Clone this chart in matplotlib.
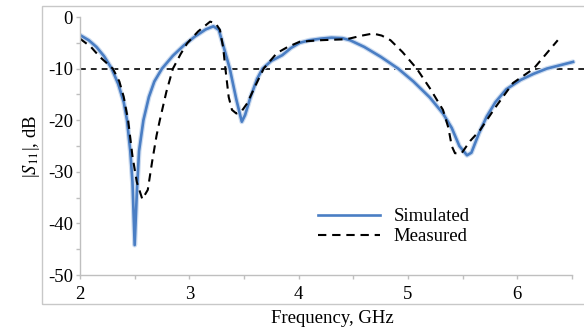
import numpy as np
import matplotlib
matplotlib.use('Agg')
import matplotlib.pyplot as plt
from matplotlib.patches import Rectangle

# simulated |S11| (GHz, dB)
sim_f = [2.00, 2.08, 2.15, 2.22, 2.29, 2.35, 2.40, 2.43, 2.46, 2.48, 2.50, 2.52, 2.54, 2.58,
         2.63, 2.68, 2.75, 2.85, 2.95, 3.05, 3.15, 3.22, 3.27, 3.31, 3.37, 3.43, 3.48,
         3.51, 3.56, 3.62, 3.67, 3.75, 3.85, 3.93, 4.01, 4.10, 4.20, 4.30, 4.40, 4.47,
         4.60, 4.75, 4.91, 5.05, 5.20, 5.32, 5.40, 5.47, 5.54, 5.58, 5.65, 5.72, 5.80,
         5.90, 6.03, 6.15, 6.27, 6.40, 6.51]
sim_db = [-3.5, -4.5, -5.8, -7.6, -10.0, -13.0, -16.5, -20.0, -26.0, -32.0, -44.2, -34.0, -26.0, -20.0,
          -15.5, -12.5, -10.0, -7.5, -5.5, -3.8, -2.4, -1.8, -2.5, -5.5, -10.0, -16.0, -20.3,
          -19.0, -15.5, -12.0, -10.0, -8.5, -7.4, -6.0, -5.0, -4.5, -4.2, -4.0, -4.1, -4.5,
          -5.8, -7.7, -10.0, -12.5, -15.6, -18.7, -21.5, -25.0, -26.8, -26.3, -22.5, -19.3, -16.5,
          -14.0, -12.2, -11.0, -10.0, -9.3, -8.7]

# measured |S11|
meas_f = [2.00, 2.10, 2.18, 2.30, 2.36, 2.40, 2.44, 2.48, 2.52, 2.57, 2.62, 2.66, 2.70,
          2.73, 2.79, 2.85, 2.92, 2.98, 3.08, 3.19, 3.24, 3.28, 3.31, 3.33, 3.36, 3.39,
          3.43, 3.48, 3.53, 3.60, 3.68, 3.80, 3.90, 4.01, 4.20, 4.44, 4.58, 4.68, 4.76,
          4.84, 4.95, 5.08, 5.20, 5.32, 5.37, 5.40, 5.43, 5.49, 5.57, 5.66, 5.80, 5.96,
          6.15, 6.37]
meas_db = [-4.2, -5.8, -7.7, -10.0, -12.5, -15.5, -20.0, -27.0, -32.0, -35.3, -33.5, -28.0, -23.0,
           -20.0, -14.5, -10.0, -7.2, -5.1, -2.8, -0.9, -1.2, -2.5, -6.0, -10.0, -15.5, -18.0,
           -18.7, -18.2, -16.7, -13.5, -10.0, -7.0, -5.8, -4.8, -4.5, -4.3, -3.6, -3.2, -3.6,
           -4.5, -6.8, -10.0, -13.8, -18.0, -21.5, -25.0, -26.4, -26.4, -24.0, -21.9, -17.5, -12.8,
           -10.0, -4.5]

ref_level = -10
x_ticks = [2, 3, 4, 5, 6]
y_ticks = [0, -10, -20, -30, -40, -50]

plt.rcParams['font.family'] = ['Liberation Serif', 'DejaVu Serif']
plt.rcParams['mathtext.fontset'] = 'stix'
plt.rcParams['axes.unicode_minus'] = False
fs = 13.5

fig = plt.figure(figsize=(5.84, 3.33), dpi=100)
fig.patches.append(Rectangle((42 / 584, 1 - 304 / 333), 1.0, (304 - 6) / 333,
                             transform=fig.transFigure, fill=False,
                             edgecolor='#c8c8c8', lw=1.0))
ax = fig.add_axes([80 / 584, 1 - 275 / 333, 1 - 80 / 584, (275 - 17) / 333])

ax.axhline(ref_level, color='black', lw=1.2, ls=(0, (3.5, 3)))
ax.plot(sim_f, sim_db, color='#cddcf0', lw=3.6, solid_capstyle='round', solid_joinstyle='round')
ax.plot(sim_f, sim_db, color='#4a7ec4', lw=1.9, solid_joinstyle='round', label='Simulated')
ax.plot(meas_f, meas_db, color='black', lw=1.5, ls=(0, (4, 2.8)), label='Measured')

ax.set_xlim(2, 6.61)
ax.set_ylim(-50, 0)
for s in ['top', 'right']:
    ax.spines[s].set_visible(False)
for s in ['left', 'bottom']:
    ax.spines[s].set_color('#bfbfbf')
    ax.spines[s].set_linewidth(1.0)
ax.spines['bottom'].set_bounds(2, 6.5)

ax.set_xticks(x_ticks)
ax.set_xticks(np.arange(2.5, 6.6, 1.0), minor=True)
ax.set_yticks(y_ticks)
ax.set_yticks(np.arange(-45, 0, 10), minor=True)
ax.tick_params(which='both', color='#bfbfbf', length=3, width=1, labelsize=fs)
ax.tick_params(axis='x', pad=5)
ax.tick_params(axis='y', pad=2)

ax.set_xlabel('Frequency, GHz', fontsize=fs, labelpad=5)
ax.set_ylabel(r'|$S_{11}$|, dB', fontsize=fs, labelpad=4)

ax.legend(loc='upper left', bbox_to_anchor=(318 / 584, 1 - 208 / 333),
          bbox_transform=fig.transFigure, frameon=False, fontsize=fs,
          handlelength=3.3, handletextpad=0.75, labelspacing=0.15,
          borderpad=0, borderaxespad=0)

fig.savefig('out.png', dpi=100)
